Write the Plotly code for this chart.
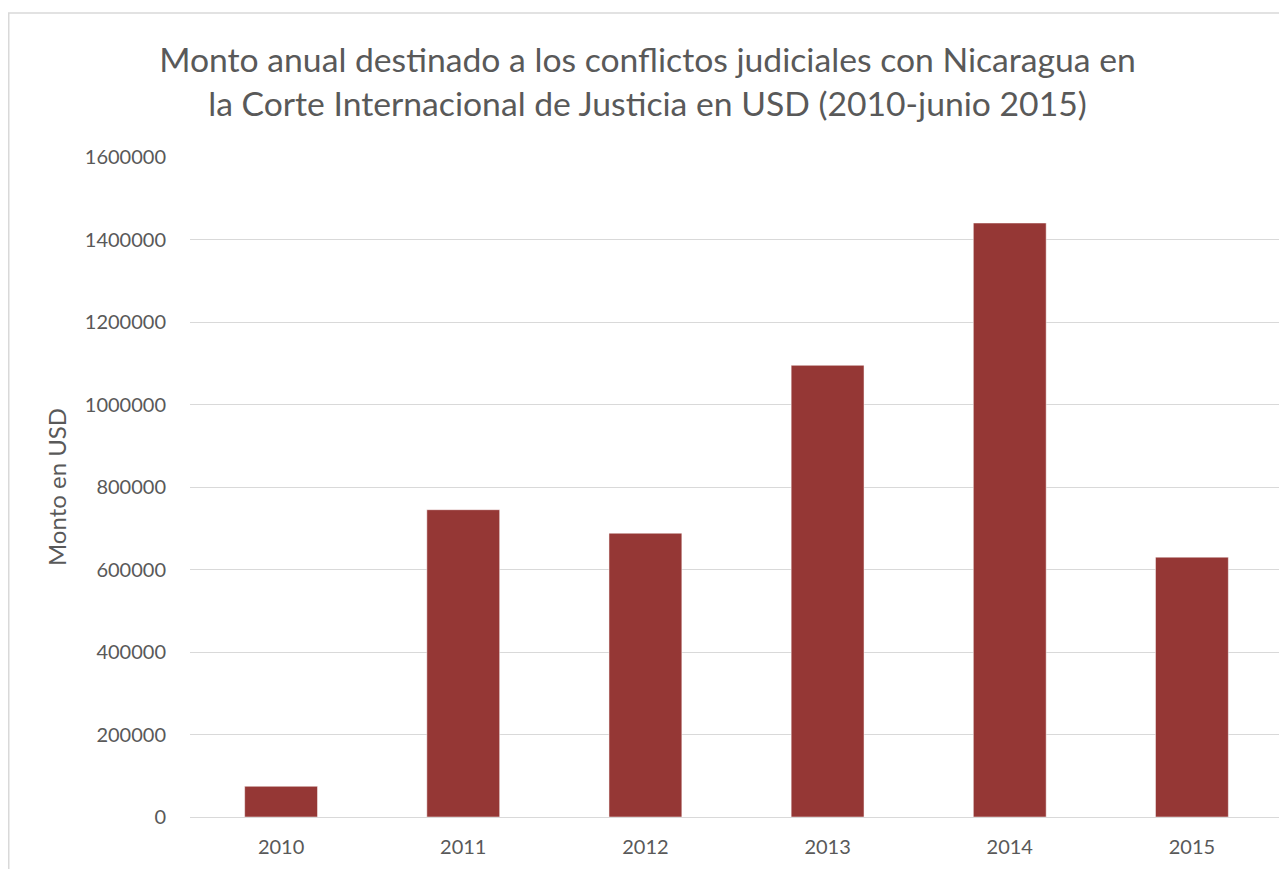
import plotly.graph_objects as go

years = ["2010", "2011", "2012", "2013", "2014", "2015"]
montos = [74500, 745000, 688000, 1095000, 1440000, 630000]
y_ticks = [0, 200000, 400000, 600000, 800000, 1000000, 1200000, 1400000, 1600000]

title_text = ("Monto anual destinado a los conflictos judiciales con Nicaragua en<br>"
              "la Corte Internacional de Justicia en USD (2010-junio 2015)")

W, H = 1279, 861
L, R, T, B = 182, 4, 149, 52
PW, PH = W - L - R, H - T - B

fig = go.Figure(go.Bar(
    x=years, y=montos,
    marker=dict(color="#953735", line=dict(color="#ffffff", width=0.5)),
))

font_family = "Lato, Open Sans, sans-serif"

fig.update_layout(
    width=W, height=H,
    margin=dict(l=L, r=R, t=T, b=B),
    paper_bgcolor="white", plot_bgcolor="white",
    bargap=0.6,
    showlegend=False,
    font=dict(family=font_family, color="#595959"),
    title=dict(text=title_text, x=0.5, xanchor="center", xref="container",
               y=0.9255, yanchor="top", yref="container",
               font=dict(size=33.7, color="#595959", family=font_family)),
    xaxis=dict(showgrid=False, showline=False, ticks="",
               tickfont=dict(size=20, color="#595959"), ticklabelstandoff=16),
    yaxis=dict(range=[0, 1600000], tickvals=y_ticks,
               ticktext=[str(v) for v in y_ticks],
               showgrid=True, gridcolor="#d9d9d9", gridwidth=1.3,
               zeroline=True, zerolinecolor="#d9d9d9", zerolinewidth=1.3,
               showline=False, ticks="",
               tickfont=dict(size=20, color="#595959"), ticklabelstandoff=23,
               title=dict(text="Monto en USD", font=dict(size=24, color="#595959"),
                          standoff=11)),
    shapes=[dict(type="rect", xref="paper", yref="paper",
                 x0=(0.75 - L) / PW, x1=1.05,
                 y0=-0.2, y1=(H - B - 5) / PH,
                 line=dict(color="#d9d9d9", width=1.5), fillcolor="rgba(0,0,0,0)",
                 layer="below")],
)

fig.write_html("out.html")
